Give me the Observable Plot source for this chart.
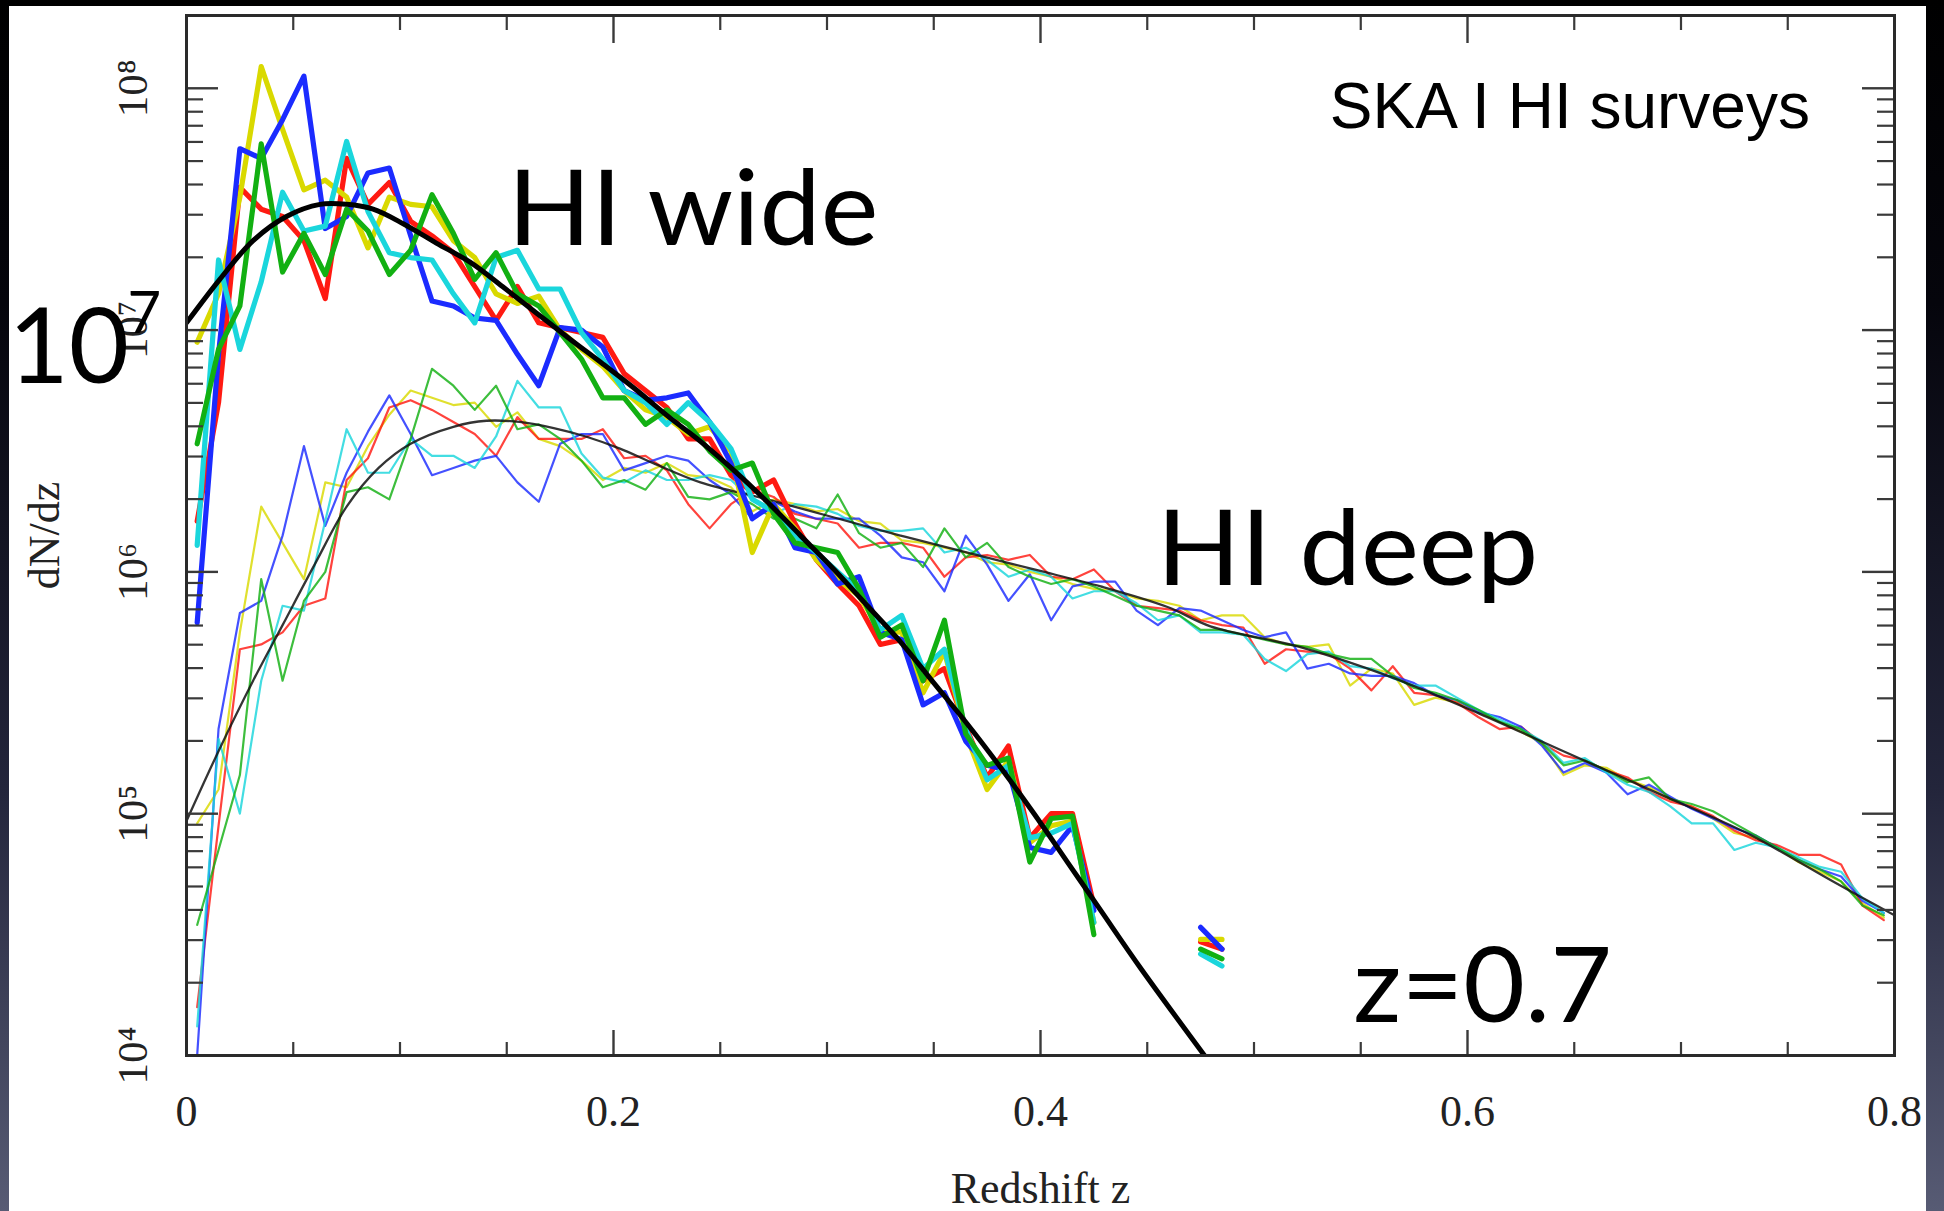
<!DOCTYPE html>
<html><head><meta charset="utf-8">
<script src="https://cdn.jsdelivr.net/npm/d3@7"></script>
<script src="https://cdn.jsdelivr.net/npm/@observablehq/plot@0.6"></script>
<style>
html,body{margin:0;padding:0;width:1944px;height:1211px;overflow:hidden;}
body{background:linear-gradient(180deg,#000 0%,#05050c 25%,#23253b 65%,#575b74 100%);position:relative;}
#panel{position:absolute;left:9px;top:6px;width:1917px;height:1205px;background:#fff;}
#chart{position:absolute;left:0;top:0;}
</style></head>
<body><div id="panel"></div><div id="chart"></div>
<script>
// ---------- DATA ----------
// redshift bin centres
const zBins = [0.005,0.015,0.025,0.035,0.045,0.055,0.065,0.075,0.085,0.095,
  0.105,0.115,0.125,0.135,0.145,0.155,0.165,0.175,0.185,0.195,
  0.205,0.215,0.225,0.235,0.245,0.255,0.265,0.275,0.285,0.295,
  0.305,0.315,0.325,0.335,0.345,0.355,0.365,0.375,0.385,0.395,
  0.405,0.415,0.425,0.435,0.445,0.455,0.465,0.475,0.485,0.495,
  0.505,0.515,0.525,0.535,0.545,0.555,0.565,0.575,0.585,0.595,
  0.605,0.615,0.625,0.635,0.645,0.655,0.665,0.675,0.685,0.695,
  0.705,0.715,0.725,0.735,0.745,0.755,0.765,0.775,0.785,0.795];

// HI wide survey: log10(dN/dz) per bin (null = empty bin)
const wideBlue = [5.79,6.90,7.75,7.71,7.87,8.05,7.42,7.47,7.65,7.67,
 7.39,7.12,7.10,7.05,7.04,6.90,6.77,7.01,7.00,6.93,
 6.75,6.71,6.72,6.74,6.62,6.45,6.22,6.28,6.10,6.08,
 5.95,5.98,5.75,5.72,5.45,5.50,5.30,5.20,5.18,4.86,
 4.84,4.95,4.60,null,null,null,null,4.53,4.44];
const wideRed = [6.21,6.70,7.59,7.50,7.47,7.37,7.13,7.71,7.52,7.61,
 7.45,7.39,7.32,7.18,7.04,7.18,7.03,7.01,6.99,6.97,
 6.82,6.75,6.68,6.55,6.55,6.40,6.33,6.38,6.20,6.05,
 5.95,5.86,5.70,5.72,5.55,5.60,5.36,5.15,5.28,4.90,
 5.00,5.00,4.62,null,null,null,null,4.47,4.44];
const wideYellow = [6.95,7.15,7.55,8.09,7.83,7.58,7.62,7.55,7.34,7.55,
 7.52,7.51,7.37,7.30,7.15,7.11,7.14,7.00,6.92,6.85,
 6.75,6.67,6.64,6.57,6.60,6.50,6.08,6.28,6.18,6.05,
 5.97,5.90,5.76,5.75,5.50,5.67,5.33,5.10,5.22,4.88,
 4.95,4.97,4.55,null,null,null,null,4.48,4.48];
const wideGreen = [6.53,6.92,7.10,7.77,7.24,7.40,7.23,7.50,7.41,7.23,
 7.33,7.56,7.40,7.21,7.32,7.15,7.10,6.99,6.88,6.72,
 6.72,6.61,6.67,6.61,6.50,6.42,6.45,6.24,6.12,6.10,
 6.08,5.93,5.73,5.78,5.55,5.80,5.33,5.20,5.23,4.80,
 4.98,4.99,4.50,null,null,null,null,4.44,4.40];
const wideCyan = [6.11,7.29,6.92,7.20,7.57,7.41,7.43,7.78,7.49,7.32,
 7.30,7.29,7.15,7.03,7.30,7.33,7.17,7.17,6.99,6.88,
 6.75,6.70,6.61,6.70,6.62,6.51,6.30,6.25,6.15,6.08,
 6.00,5.92,5.76,5.82,5.60,5.68,5.35,5.14,5.20,4.90,
 4.92,4.96,4.55,null,null,null,null,4.42,4.37];

// HI deep survey: log10(dN/dz) per bin
const deepBlue = [4.00,5.35,5.83,5.88,6.15,6.52,6.19,6.41,6.58,6.73,
 6.57,6.40,6.43,6.46,6.48,6.37,6.29,6.53,6.57,6.57,
 6.42,6.45,6.48,6.46,6.38,6.32,6.22,6.29,6.25,6.22,
 6.22,6.22,6.15,6.06,6.04,5.92,6.15,6.03,5.88,5.99,
 5.80,5.94,5.96,5.96,5.84,5.78,5.85,5.84,5.80,5.76,
 5.73,5.75,5.60,5.62,5.58,5.57,5.57,5.54,5.49,5.47,
 5.42,5.40,5.36,5.28,5.17,5.21,5.17,5.08,5.12,5.07,
 5.02,4.98,4.94,4.91,4.86,4.81,4.77,4.74,4.64,4.59];
const deepRed = [4.20,4.95,5.68,5.70,5.75,5.86,5.89,6.38,6.47,6.68,
 6.71,6.67,6.62,6.57,6.48,6.64,6.55,6.55,6.55,6.59,
 6.47,6.48,6.42,6.28,6.18,6.28,6.34,6.31,6.24,6.22,
 6.20,6.10,6.12,6.12,6.10,5.98,6.06,6.07,6.05,6.07,
 5.98,5.97,6.01,5.92,5.86,5.85,5.84,5.80,5.78,5.77,
 5.62,5.68,5.67,5.66,5.60,5.51,5.61,5.50,5.49,5.46,
 5.40,5.35,5.36,5.29,5.24,5.22,5.18,5.15,5.09,5.05,
 5.03,4.99,4.93,4.89,4.87,4.83,4.83,4.79,4.62,4.56];
const deepYellow = [4.96,5.10,5.75,6.27,6.12,5.97,6.37,6.35,6.52,6.65,
 6.75,6.72,6.69,6.70,6.60,6.66,6.55,6.52,6.46,6.38,
 6.43,6.41,6.45,6.40,6.39,6.35,6.25,6.30,6.28,6.25,
 6.26,6.21,6.20,6.13,6.12,6.10,6.08,6.04,6.03,6.00,
 5.98,5.95,5.93,5.92,5.89,5.88,5.86,5.80,5.82,5.82,
 5.73,5.70,5.69,5.70,5.53,5.60,5.58,5.45,5.48,5.46,
 5.42,5.38,5.34,5.29,5.16,5.20,5.19,5.14,5.11,5.06,
 5.03,4.98,4.92,4.90,4.86,4.80,4.76,4.72,4.63,4.57];
const deepGreen = [4.54,4.85,5.16,5.97,5.55,5.88,6.00,6.33,6.35,6.30,
 6.55,6.84,6.77,6.67,6.77,6.59,6.61,6.55,6.46,6.35,
 6.38,6.34,6.45,6.31,6.30,6.33,6.28,6.22,6.22,6.18,
 6.32,6.16,6.10,6.12,6.02,6.18,6.06,6.12,6.02,5.98,
 5.95,5.97,5.94,5.90,5.86,5.84,5.82,5.76,5.76,5.74,
 5.72,5.70,5.69,5.66,5.64,5.64,5.57,5.52,5.50,5.47,
 5.43,5.38,5.35,5.29,5.20,5.22,5.18,5.13,5.15,5.06,
 5.04,5.01,4.96,4.91,4.86,4.81,4.77,4.72,4.62,4.58];
const deepCyan = [4.12,5.31,5.00,5.55,5.86,5.84,6.21,6.59,6.41,6.41,
 6.55,6.48,6.48,6.43,6.56,6.79,6.68,6.68,6.49,6.39,
 6.37,6.42,6.38,6.38,6.40,6.38,6.30,6.24,6.28,6.27,
 6.24,6.19,6.17,6.17,6.18,6.08,6.10,6.05,5.98,6.01,
 5.98,5.89,5.92,5.92,5.87,5.80,5.82,5.75,5.75,5.74,
 5.64,5.59,5.66,5.67,5.61,5.60,5.56,5.53,5.53,5.48,
 5.43,5.39,5.35,5.30,5.21,5.23,5.17,5.12,5.09,5.03,
 4.96,4.96,4.85,4.88,4.86,4.82,4.78,4.76,4.65,4.59];

// model curves (black): z and log10(dN/dz)
const wideFitZ   = [0,0.0156,0.0312,0.0468,0.0625,0.075,0.0874,0.1015,0.117,0.133,0.148,0.164,0.180,0.195,0.211,0.226,0.2407,0.2564,0.272,0.2876,0.3033,0.3189,0.3345,0.3501,0.3658,0.3814,0.397,0.4126,0.4282,0.447,0.481];
const wideFitLog = [7.03,7.21,7.37,7.47,7.52,7.52,7.50,7.44,7.36,7.28,7.18,7.07,6.96,6.86,6.75,6.64,6.54,6.42,6.29,6.15,6.01,5.86,5.71,5.54,5.37,5.19,5.00,4.80,4.60,4.36,3.95];
const deepFitZ   = [0,0.0156,0.0312,0.045,0.06,0.075,0.09,0.105,0.125,0.1405,0.156,0.172,0.187,0.203,0.2186,0.2407,0.272,0.3033,0.3345,0.3658,0.397,0.4282,0.4595,0.4796,0.5213,0.5633,0.605,0.6468,0.6887,0.7305,0.7723,0.8];
const deepFitLog = [4.97,5.27,5.55,5.78,6.03,6.27,6.43,6.53,6.60,6.625,6.62,6.595,6.56,6.51,6.45,6.37,6.30,6.225,6.15,6.08,6.01,5.94,5.855,5.775,5.69,5.568,5.416,5.251,5.086,4.921,4.714,4.58];

// axis ticks and labels
const xTicks = [0, 0.2, 0.4, 0.6, 0.8];
const xTickLabels = ["0", "0.2", "0.4", "0.6", "0.8"];
const xMinorTicks = [0.05,0.1,0.15,0.25,0.3,0.35,0.45,0.5,0.55,0.65,0.7,0.75];
const yTicks = [1e4, 1e5, 1e6, 1e7, 1e8];
const yTickLabels = ["10⁴", "10⁵", "10⁶", "10⁷", "10⁸"];
const yMinorMult = [2,3,4,5,6,7,8,9];
const yDecades = [1e4, 1e5, 1e6, 1e7];

// annotations (text, anchor z, anchor dN/dz)
const annotations = [
  {text: "HI wide", z: 0.1505, v: 2.24e7},
  {text: "HI deep", z: 0.4545, v: 8.83e5},
  {text: "z=0.7", z: 0.5465, v: 1.38e4}
];
const bigLabel = [{text: "10", z: -0.0834, v: 6.04e6}];
const bigLabelExp = [{text: "7", z: -0.0276, v: 9.7e6}];
const titleLabel = [{text: "SKA I HI surveys", z: 0.5355, v: 6.84e7}];
// horizontal stretch of the slide annotations relative to the substitute font
const stretch = {"HI wide": 1.05, "HI deep": 1.055, "z=0.7": 1.025};

// ---------- BUILD ----------
const W = 1944, H = 1211, ML = 186, MR = 50, MT = 15, MB = 156;
const FW = W - ML - MR, FH = H - MT - MB;
const toRows = arr => arr.map((lg, i) => ({z: zBins[i], v: lg == null ? null : Math.pow(10, lg)}));
const fitRows = (zs, lgs) => zs.map((z, i) => ({z, v: Math.pow(10, lgs[i])}));

const colors = {blue: "#1b2bff", red: "#ff1a12", yellow: "#d9d900", green: "#12b012", cyan: "#1ad6dc"};
const deepSeries = [["yellow", deepYellow], ["red", deepRed], ["blue", deepBlue], ["cyan", deepCyan], ["green", deepGreen]];
const wideSeries = [["red", wideRed], ["yellow", wideYellow], ["blue", wideBlue], ["cyan", wideCyan], ["green", wideGreen]];

const yMinor = yDecades.flatMap(d => yMinorMult.map(m => m * d));
const serif = "Liberation Serif, Times New Roman, serif";
const tickColor = "#3a3a3a";

const marks = [];
for (const [c, arr] of deepSeries) {
  marks.push(Plot.line(toRows(arr), {x: "z", y: "v", stroke: colors[c], strokeWidth: 2.2, strokeOpacity: 0.82, clip: true}));
}
marks.push(Plot.line(fitRows(deepFitZ, deepFitLog), {x: "z", y: "v", stroke: "#111", strokeWidth: 2.3, strokeOpacity: 0.85, curve: "catmull-rom", clip: true}));
for (const [c, arr] of wideSeries) {
  marks.push(Plot.line(toRows(arr), {x: "z", y: "v", stroke: colors[c], strokeWidth: 5.2, clip: true}));
}
marks.push(Plot.line(fitRows(wideFitZ, wideFitLog), {x: "z", y: "v", stroke: "#000", strokeWidth: 5, curve: "catmull-rom", clip: true}));

// ticks (inward, all four sides)
marks.push(Plot.ruleX(xTicks, {x: d => d, insetTop: FH - 25, stroke: tickColor, strokeWidth: 2.4}));
marks.push(Plot.ruleX(xTicks, {x: d => d, insetBottom: FH - 28, stroke: tickColor, strokeWidth: 2.4}));
marks.push(Plot.ruleX(xMinorTicks, {x: d => d, insetTop: FH - 13, stroke: tickColor, strokeWidth: 2.2}));
marks.push(Plot.ruleX(xMinorTicks, {x: d => d, insetBottom: FH - 15, stroke: tickColor, strokeWidth: 2.2}));
marks.push(Plot.ruleY(yTicks, {y: d => d, insetRight: FW - 32, stroke: tickColor, strokeWidth: 2.4}));
marks.push(Plot.ruleY(yTicks, {y: d => d, insetLeft: FW - 32, stroke: tickColor, strokeWidth: 2.4}));
marks.push(Plot.ruleY(yMinor, {y: d => d, insetRight: FW - 17, stroke: tickColor, strokeWidth: 2.2}));
marks.push(Plot.ruleY(yMinor, {y: d => d, insetLeft: FW - 17, stroke: tickColor, strokeWidth: 2.2}));
marks.push(Plot.frame({stroke: "#2a2a2a", strokeWidth: 3}));

// tick labels and axis titles
marks.push(Plot.text(xTicks.map((v, i) => ({v, t: xTickLabels[i]})), {x: "v", text: "t", frameAnchor: "bottom", dy: 70, lineAnchor: "bottom", fontSize: 44, fontFamily: serif, fill: "#222"}));
marks.push(Plot.text(yTicks.map((v, i) => ({v, t: yTickLabels[i]})), {y: "v", text: "t", frameAnchor: "left", dx: -40, rotate: -90, lineAnchor: "bottom", textAnchor: "middle", fontSize: 43, fontFamily: serif, fill: "#222"}));
marks.push(Plot.text(["dN/dz"], {text: d => d, frameAnchor: "left", dx: -128, rotate: -90, lineAnchor: "bottom", textAnchor: "middle", fontSize: 44, fontFamily: serif, fill: "#222"}));
marks.push(Plot.text(["Redshift z"], {text: d => d, frameAnchor: "bottom", dy: 147, lineAnchor: "bottom", textAnchor: "middle", fontSize: 44, fontFamily: serif, fill: "#222"}));

// annotations
marks.push(Plot.text(annotations, {x: "z", y: "v", text: "text", textAnchor: "start", lineAnchor: "bottom", fontSize: 104, fontFamily: "Lato, Open Sans, sans-serif", fill: "#000"}));
marks.push(Plot.text(bigLabel, {x: "z", y: "v", text: "text", textAnchor: "start", lineAnchor: "bottom", fontSize: 104, fontFamily: "Lato, Open Sans, sans-serif", fill: "#000"}));
marks.push(Plot.text(bigLabelExp, {x: "z", y: "v", text: "text", textAnchor: "start", lineAnchor: "bottom", fontSize: 58, fontFamily: "Lato, Open Sans, sans-serif", fill: "#000"}));
marks.push(Plot.text(titleLabel, {x: "z", y: "v", text: "text", textAnchor: "start", lineAnchor: "bottom", fontSize: 64, fontFamily: "Liberation Sans, Arial, sans-serif", fill: "#000"}));

const chart = Plot.plot({
  width: W, height: H,
  marginLeft: ML, marginRight: MR, marginTop: MT, marginBottom: MB,
  style: {background: "transparent", overflow: "visible"},
  x: {domain: [0, 0.8], axis: null},
  y: {type: "log", domain: [1e4, 2e8], axis: null},
  marks
});
document.getElementById("chart").appendChild(chart);

// widen the slide annotations to the reference's letter widths
chart.querySelectorAll("text").forEach(t => {
  const k = stretch[t.textContent];
  if (k) {
    const len = t.getComputedTextLength();
    t.setAttribute("textLength", (len * k).toFixed(1));
    t.setAttribute("lengthAdjust", "spacingAndGlyphs");
  }
});
</script>
</body></html>
